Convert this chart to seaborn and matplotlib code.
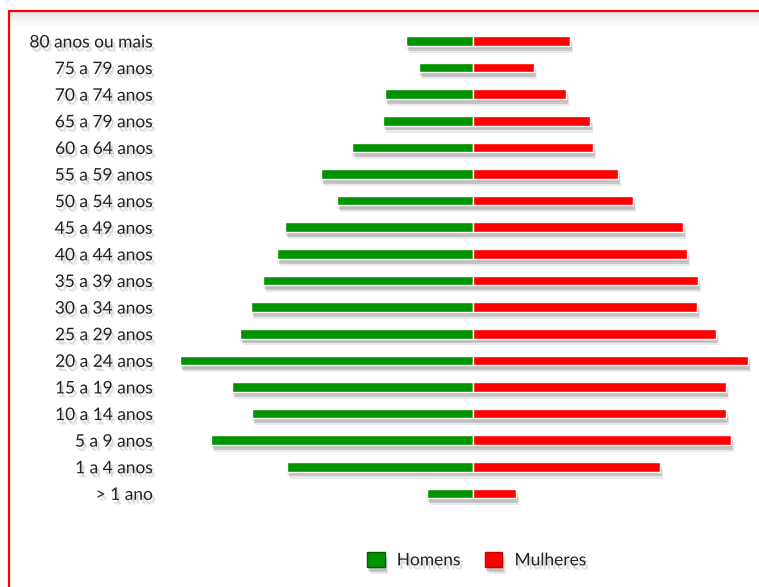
import matplotlib
matplotlib.use("Agg")
import matplotlib.pyplot as plt
import matplotlib.patheffects as pe
from matplotlib.patches import Rectangle
import seaborn as sns
import pandas as pd

faixas = ["80 anos ou mais", "75 a 79 anos", "70 a 74 anos", "65 a 79 anos",
          "60 a 64 anos", "55 a 59 anos", "50 a 54 anos", "45 a 49 anos",
          "40 a 44 anos", "35 a 39 anos", "30 a 34 anos", "25 a 29 anos",
          "20 a 24 anos", "15 a 19 anos", "10 a 14 anos", "5 a 9 anos",
          "1 a 4 anos", "> 1 ano"]
homens = [67, 54, 88, 90, 121, 152, 136, 188, 196, 210, 222, 233, 293, 241, 221, 262, 186, 46]
mulheres = [97, 61, 93, 117, 120, 145, 160, 210, 214, 225, 224, 243, 275, 253, 253, 258, 187, 43]
series = ["Homens", "Mulheres"]
cores = {"Homens": "#009400", "Mulheres": "#ff0000"}

df = pd.concat([
    pd.DataFrame({"faixa": faixas, "valor": [-v for v in homens], "sexo": series[0]}),
    pd.DataFrame({"faixa": faixas, "valor": mulheres, "sexo": series[1]}),
])

sns.set_theme(style="white")
plt.rcParams["font.family"] = ["Lato", "DejaVu Sans"]

W, H = 759, 587
fig = plt.figure(figsize=(W / 100, H / 100), dpi=100)
ax = fig.add_axes([160 / W, 1 - 520 / H, (W - 160) / W, 510 / H])

sns.barplot(data=df, x="valor", y="faixa", hue="sexo", order=faixas,
            hue_order=series, palette=cores, dodge=False, width=0.36,
            saturation=1, orient="h", ax=ax, edgecolor="white", linewidth=1.0)

shadow = [pe.SimplePatchShadow(offset=(1.5, -3.5), shadow_rgbFace="#777777", alpha=0.3),
          pe.SimplePatchShadow(offset=(2.5, -5), shadow_rgbFace="#888888", alpha=0.18),
          pe.SimplePatchShadow(offset=(0.5, -2.5), shadow_rgbFace="#999999", alpha=0.18),
          pe.Normal()]
for p in ax.patches:
    p.set_path_effects(shadow)

ax.set_xlim(160 - 472.5, W - 472.5)
ax.set_ylim(18, -1.165)
ax.set_xlabel("")
ax.set_ylabel("")
ax.set_xticks([])
for s in ax.spines.values():
    s.set_visible(False)
ax.patch.set_alpha(0)
ax.tick_params(axis="y", length=0, pad=5, labelsize=12.5, labelcolor="#222222")
txt_shadow = [pe.SimplePatchShadow(offset=(1.5, -2.5), shadow_rgbFace="#888888", alpha=0.3),
              pe.SimplePatchShadow(offset=(2.5, -3.5), shadow_rgbFace="#999999", alpha=0.15),
              pe.Normal()]
for t in ax.get_yticklabels():
    t.set_path_effects(txt_shadow)

sns.move_legend(ax, "center", bbox_to_anchor=(477 / W, 1 - 560 / H),
                bbox_transform=fig.transFigure, ncol=2, frameon=False,
                title=None, fontsize=12.5, handlelength=1.0, handleheight=1.0,
                columnspacing=1.4, handletextpad=0.7)
leg = ax.get_legend()
for t in leg.get_texts():
    t.set_color("#222222")
    t.set_path_effects(txt_shadow)
for h in leg.legend_handles:
    h.set_path_effects(shadow)
    h.set_edgecolor("#006000" if h.get_facecolor()[1] > 0.3 else "#cc0000")

# red frame with soft shadow under the top edge
for i, a in enumerate([0.10, 0.07, 0.05, 0.03, 0.02]):
    fig.patches.append(Rectangle((9 / W, 1 - (14 + 3 * i) / H), 1, 3 / H,
                                 transform=fig.transFigure, facecolor="black",
                                 alpha=a, edgecolor="none", zorder=0))
fig.patches.append(Rectangle((8.5 / W, -0.1), 1, 1.1 - 10.5 / H,
                             transform=fig.transFigure, facecolor="none",
                             edgecolor="#ff0000", linewidth=1.6, zorder=5))

fig.savefig("out.png", dpi=100)
